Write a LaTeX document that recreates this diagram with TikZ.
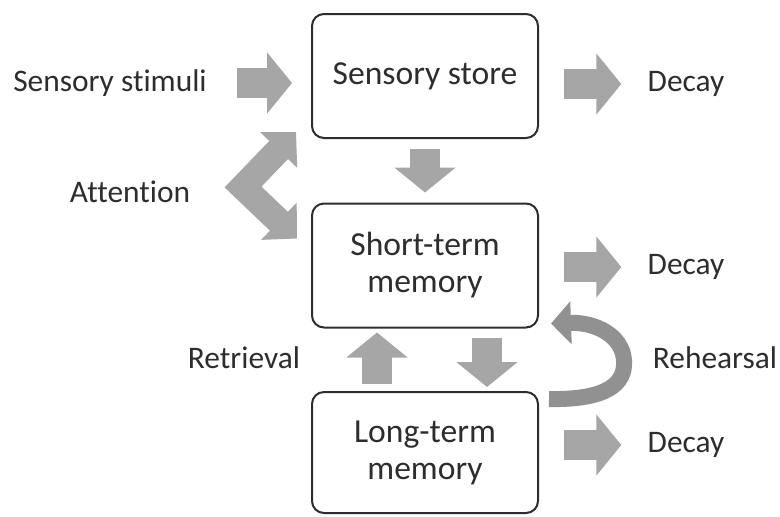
\documentclass[tikz,border=0pt]{standalone}
\usepackage{fontspec}
\setmainfont{Carlito}[Ligatures=NoCommon]
\usepackage{tikz}
\usetikzlibrary{arrows.meta}

\definecolor{arrowgray}{RGB}{166,166,166}
\definecolor{curlgray}{RGB}{145,145,145}
\definecolor{inkgray}{RGB}{45,45,45}

\begin{document}
\begin{tikzpicture}[x=0.5pt, y=-0.5pt,
    every node/.style={text=inkgray, inner sep=0pt},
    store/.style={draw=inkgray, line width=1pt, rounded corners=6pt, minimum width=113pt,
      minimum height=62pt, align=center, font=\fontsize{16.8}{18.5}\selectfont},
    lbl/.style={font=\fontsize{15.7}{18}\selectfont},
    blk/.style={draw=arrowgray, line width=15pt, -{Triangle[width=30pt,length=12.5pt]}},
    curl/.style={draw=curlgray, line width=8pt, -{Triangle[width=21pt,length=10pt]}}]
  \useasboundingbox (0,0) rectangle (780,516);
  \node[store] (S) at (425,76) {Sensory store};
  \node[store] (STM) at (425,265.5) {Short-term\\memory};
  \node[store, minimum height=60.5pt] (LTM) at (425,452.5) {Long-term\\memory};
  \node[lbl] (stim) at (110,83) {Sensory stimuli};
  \node[lbl] (att) at (130,192) {Attention};
  \node[lbl] (ret) at (244,358) {Retrieval};
  \node[lbl] (reh) at (715,358) {Rehearsal};
  \node[lbl] (D1) at (686,84) {Decay};
  \node[lbl] (D2) at (686,267) {Decay};
  \node[lbl] (D3) at (686,445) {Decay};
  \coordinate (A) at (243,187);
  \draw[blk, shorten <=15pt, shorten >=9.5pt] (stim) -- (stim -| S.west);
  \draw[blk, shorten <=12.5pt, shorten >=13pt] (S.east |- D1) -- (D1);
  \draw[blk, shorten <=12.5pt, shorten >=13pt] (STM.east |- D2) -- (D2);
  \draw[blk, shorten <=12.5pt, shorten >=13pt] (LTM.east |- D3) -- (D3);
  \draw[blk, shorten <=5pt, shorten >=5pt] (S) -- (STM);
  \draw[blk, shorten <=3.5pt, shorten >=2pt] ([xshift=-24pt]LTM.north) -- ([xshift=-24pt]STM.south);
  \draw[blk, shorten <=4.5pt, shorten >=2pt] ([xshift=31pt]STM.south) -- ([xshift=31pt]LTM.north);
  \draw[blk, line width=13pt, line join=miter, {Triangle[width=25pt,length=12.5pt]}-{Triangle[width=25pt,length=12.5pt]}]
    ([xshift=-7.5pt,yshift=3.5pt]S.south west) -- (A) -- ([xshift=-7pt,yshift=-18pt]STM.north west);
  \draw[curl] ([xshift=5pt,yshift=-4pt]LTM.north east) .. controls (605,400) and (626,385) .. (624,360)
    .. controls (622,335) and (595,322) .. ([xshift=6pt,yshift=2.5pt]STM.south east);
\end{tikzpicture}
\end{document}
